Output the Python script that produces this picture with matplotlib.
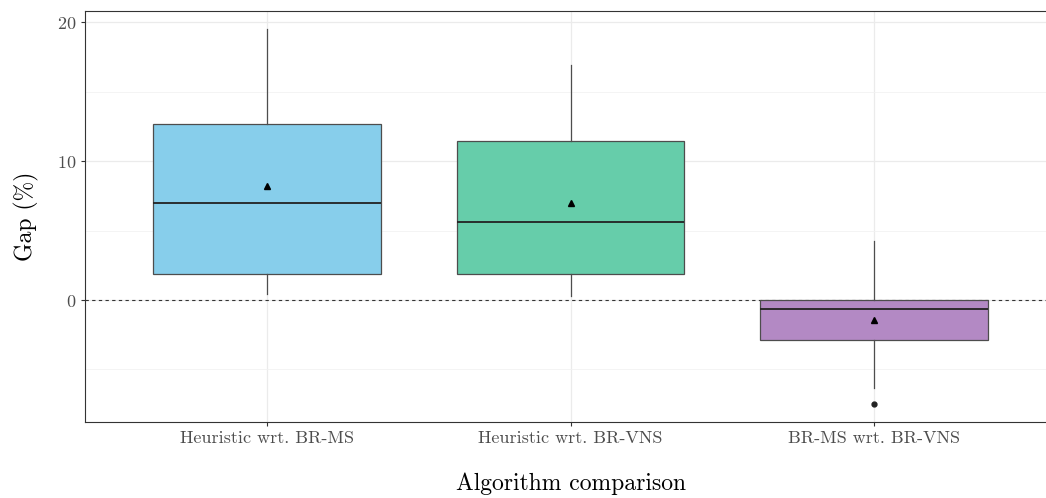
import matplotlib
matplotlib.use('Agg')
import matplotlib.pyplot as plt

# Werte (Gap in %)
categories = ['Heuristic wrt. BR-MS', 'Heuristic wrt. BR-VNS', 'BR-MS wrt. BR-VNS']
q1 = [1.87, 1.87, -2.88]
median = [6.98, 5.6, -0.67]
q3 = [12.66, 11.44, -0.03]
whisker_low = [0.43, 0.29, -6.35]
whisker_high = [19.5, 16.9, 4.24]
means = [8.2, 6.98, -1.44]
outliers = [[], [], [-7.46]]
colors = ['#87CEEB', '#66CDAA', '#B389C4']

plt.rcParams['font.family'] = 'cmr10'
plt.rcParams['axes.formatter.use_mathtext'] = True

fig = plt.figure(figsize=(10.46, 4.98), dpi=100)
ax = fig.add_axes([85 / 1046, 1 - 422 / 498, (1056 - 85) / 1046, (422 - 11) / 498])

stats = []
for i, name in enumerate(categories):
    stats.append(dict(label=name, q1=q1[i], med=median[i], q3=q3[i],
                      whislo=whisker_low[i], whishi=whisker_high[i],
                      mean=means[i], fliers=outliers[i]))

edge = '#4D4D4D'
bp = ax.bxp(stats, positions=[1, 2, 3], widths=0.75, patch_artist=True,
            showmeans=True, showcaps=False,
            boxprops=dict(edgecolor=edge, linewidth=0.9),
            medianprops=dict(color='#222222', linewidth=1.3),
            whiskerprops=dict(color=edge, linewidth=0.9),
            meanprops=dict(marker='^', markerfacecolor='black',
                           markeredgecolor='black', markersize=5),
            flierprops=dict(marker='o', markerfacecolor='#222222',
                            markeredgecolor='#222222', markersize=3.5))
for patch, c in zip(bp['boxes'], colors):
    patch.set_facecolor(c)
for part in ['boxes', 'medians', 'whiskers', 'means', 'fliers']:
    for artist in bp[part]:
        artist.set_zorder(3)

ax.axhline(0, color='#333333', linestyle=(0, (3, 3)), linewidth=0.8, zorder=2)

ax.set_xlim(0.4, 3.6)
ax.set_ylim(-8.78, 20.8)
ax.set_yticks([0, 10, 20])
ax.set_yticks([-5, 5, 15], minor=True)
ax.set_xticks([1, 2, 3])
ax.set_xticklabels(categories)

ax.grid(True, which='major', color='#EBEBEB', linewidth=0.9, zorder=0)
ax.grid(True, which='minor', axis='y', color='#F2F2F2', linewidth=0.6, zorder=0)
ax.set_axisbelow(True)
ax.tick_params(axis='both', which='major', labelsize=13, colors='#333333',
               labelcolor='#4D4D4D', length=3, width=0.8)
ax.tick_params(axis='y', which='minor', length=0)
for s in ax.spines.values():
    s.set_color('#333333')
    s.set_linewidth(0.8)

ax.set_xlabel('Algorithm comparison', fontsize=17, labelpad=19)
ax.set_ylabel('Gap (%)', fontsize=17, labelpad=13)

fig.savefig('out.png', dpi=100)
